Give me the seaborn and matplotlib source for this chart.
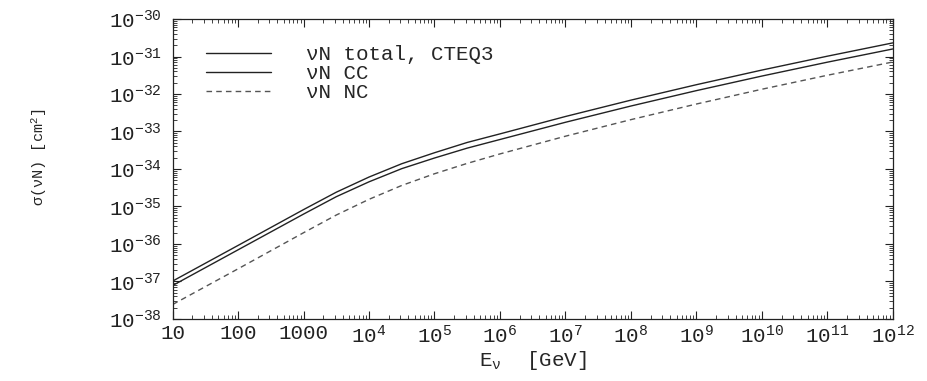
import numpy as np
import pandas as pd
import matplotlib
matplotlib.use("Agg")
import matplotlib.pyplot as plt
import seaborn as sns
from matplotlib.ticker import FixedLocator, LogLocator, NullFormatter
from matplotlib.lines import Line2D

# Data
energy = [1e1, 1e2, 1e3, 10**3.5, 1e4, 10**4.5, 1e5, 10**5.5, 1e6, 1e7, 1e8,
          1e9, 1e10, 1e11, 1e12]
sigma_total = [1.02e-37, 9.13e-37, 8.24e-36, 2.40e-35, 6.09e-35, 1.38e-34,
               2.71e-34, 5.10e-34, 8.63e-34, 2.51e-33, 6.86e-33, 1.77e-32,
               4.35e-32, 1.02e-31, 2.31e-31]
sigma_cc = [7.77e-38, 6.97e-37, 6.25e-36, 1.82e-35, 4.54e-35, 1.02e-34,
            1.96e-34, 3.60e-34, 6.11e-34, 1.76e-33, 4.78e-33, 1.23e-32,
            3.01e-32, 7.06e-32, 1.59e-31]
sigma_nc = [2.42e-38, 2.17e-37, 1.99e-36, 5.90e-36, 1.55e-35, 3.63e-35,
            7.45e-35, 1.41e-34, 2.52e-34, 7.48e-34, 2.07e-33, 5.40e-33,
            1.34e-32, 3.16e-32, 7.15e-32]
series_names = ["\u03bdN total, CTEQ3", "\u03bdN CC", "\u03bdN NC"]
x_tick_vals = [1e1, 1e2, 1e3, 1e4, 1e5, 1e6, 1e7, 1e8, 1e9, 1e10, 1e11, 1e12]
x_tick_labels = ["10", "100", "1000", "$10^{4}$", "$10^{5}$", "$10^{6}$", "$10^{7}$",
                 "$10^{8}$", "$10^{9}$", "$10^{10}$", "$10^{11}$", "$10^{12}$"]
y_exps = [-38, -37, -36, -35, -34, -33, -32, -31, -30]

n = len(energy)
df = pd.DataFrame({
    "E": energy * 3,
    "sigma": sigma_total + sigma_cc + sigma_nc,
    "series": [series_names[0]] * n + [series_names[1]] * n + [series_names[2]] * n,
})

sns.set_style("ticks")
plt.rcParams["font.family"] = ["Liberation Mono", "DejaVu Sans Mono"]
plt.rcParams["mathtext.fontset"] = "custom"
plt.rcParams["mathtext.rm"] = "Liberation Mono"
plt.rcParams["mathtext.it"] = "Liberation Mono"
plt.rcParams["mathtext.bf"] = "Liberation Mono:bold"
plt.rcParams["mathtext.default"] = "regular"

fig = plt.figure(figsize=(9.28, 3.81), dpi=100)
ax = fig.add_axes([0.186, 0.163, 0.776, 0.787])

sns.lineplot(data=df, x="E", y="sigma", hue="series", style="series",
             hue_order=series_names, style_order=series_names,
             palette=["#222222", "#222222", "#555555"],
             dashes={series_names[0]: "", series_names[1]: "",
                     series_names[2]: (4, 3)},
             linewidth=1.0, ax=ax, legend=False)

ax.set_xscale("log")
ax.set_yscale("log")
ax.set_xlim(1e1, 1e12)
ax.set_ylim(1e-38, 1e-30)

ax.xaxis.set_major_locator(FixedLocator(x_tick_vals))
ax.set_xticklabels(x_tick_labels, fontsize=15)
ax.xaxis.set_minor_locator(LogLocator(base=10, subs=np.arange(2, 10), numticks=100))
ax.xaxis.set_minor_formatter(NullFormatter())

y_vals = [10.0 ** e for e in y_exps]
ax.yaxis.set_major_locator(FixedLocator(y_vals))
ax.set_yticklabels(["$10^{%d}$" % e for e in y_exps], fontsize=15)
ax.yaxis.set_minor_locator(LogLocator(base=10, subs=np.arange(2, 10), numticks=100))
ax.yaxis.set_minor_formatter(NullFormatter())

ax.tick_params(which="both", direction="in", top=True, right=True, colors="#222222")
ax.tick_params(which="major", length=6, width=0.8)
ax.tick_params(axis="y", which="major", pad=8)
ax.tick_params(axis="x", which="major", pad=4)
ax.tick_params(which="minor", length=3, width=0.6)
for s in ax.spines.values():
    s.set_linewidth(0.9)
    s.set_color("#222222")

ax.set_xlabel("E$_{\u03bd}$  [GeV]", fontsize=15)
ax.xaxis.set_label_coords(0.5, -0.10)
ax.set_ylabel("\u03c3(\u03bdN) [cm$^{2}$]", fontsize=11)
ax.yaxis.set_label_coords(-0.172, 0.54)

handles = [Line2D([], [], color="#222222", lw=1.0),
           Line2D([], [], color="#222222", lw=1.0),
           Line2D([], [], color="#555555", lw=1.0, dashes=(4, 3))]
leg = ax.legend(handles, series_names, loc="upper left", frameon=False,
                fontsize=15, handlelength=3.1, handletextpad=1.7,
                labelspacing=0.0, borderaxespad=0.0,
                bbox_to_anchor=(0.035, 0.94))

fig.savefig("out.png", dpi=100)
